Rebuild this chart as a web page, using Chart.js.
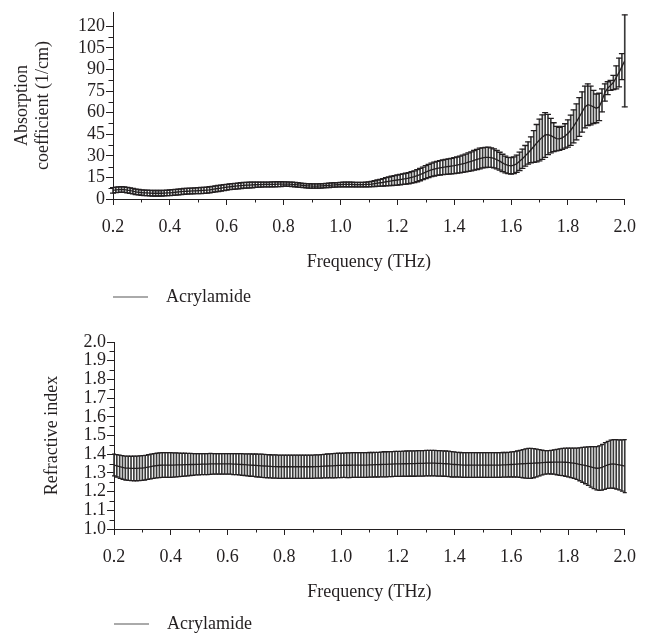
<!DOCTYPE html>
<html>
<head>
<meta charset="utf-8">
<title>Acrylamide - THz absorption and refractive index</title>
<script src="https://cdn.jsdelivr.net/npm/chart.js@4.4.1/dist/chart.umd.min.js"></script>
<style>
    html, body { margin: 0; padding: 0; background: #fff; overflow: hidden; }
    .panel { position: absolute; left: 0; width: 647px; }
    #absPanel { top: 0; height: 316px; }
    #riPanel { top: 316px; height: 327px; }
</style>
</head>
<body>
<div class="panel" id="absPanel"><canvas id="absChart" width="647" height="316"></canvas></div>
<div class="panel" id="riPanel"><canvas id="riChart" width="647" height="327"></canvas></div>
<script>
// Frequency grid (THz)
const freqs = [
    0.20, 0.21, 0.22, 0.23, 0.24, 0.25, 0.26, 0.27, 0.28, 0.29,
    0.30, 0.31, 0.32, 0.33, 0.34, 0.35, 0.36, 0.37, 0.38, 0.39,
    0.40, 0.41, 0.42, 0.43, 0.44, 0.45, 0.46, 0.47, 0.48, 0.49,
    0.50, 0.51, 0.52, 0.53, 0.54, 0.55, 0.56, 0.57, 0.58, 0.59,
    0.60, 0.61, 0.62, 0.63, 0.64, 0.65, 0.66, 0.67, 0.68, 0.69,
    0.70, 0.71, 0.72, 0.73, 0.74, 0.75, 0.76, 0.77, 0.78, 0.79,
    0.80, 0.81, 0.82, 0.83, 0.84, 0.85, 0.86, 0.87, 0.88, 0.89,
    0.90, 0.91, 0.92, 0.93, 0.94, 0.95, 0.96, 0.97, 0.98, 0.99,
    1.00, 1.01, 1.02, 1.03, 1.04, 1.05, 1.06, 1.07, 1.08, 1.09,
    1.10, 1.11, 1.12, 1.13, 1.14, 1.15, 1.16, 1.17, 1.18, 1.19,
    1.20, 1.21, 1.22, 1.23, 1.24, 1.25, 1.26, 1.27, 1.28, 1.29,
    1.30, 1.31, 1.32, 1.33, 1.34, 1.35, 1.36, 1.37, 1.38, 1.39,
    1.40, 1.41, 1.42, 1.43, 1.44, 1.45, 1.46, 1.47, 1.48, 1.49,
    1.50, 1.51, 1.52, 1.53, 1.54, 1.55, 1.56, 1.57, 1.58, 1.59,
    1.60, 1.61, 1.62, 1.63, 1.64, 1.65, 1.66, 1.67, 1.68, 1.69,
    1.70, 1.71, 1.72, 1.73, 1.74, 1.75, 1.76, 1.77, 1.78, 1.79,
    1.80, 1.81, 1.82, 1.83, 1.84, 1.85, 1.86, 1.87, 1.88, 1.89,
    1.90, 1.91, 1.92, 1.93, 1.94, 1.95, 1.96, 1.97, 1.98, 1.99,
    2.00
];

// Absorption coefficient (1/cm): mean and error half-width
const absMean = [
    6.0, 6.3, 6.5, 6.6, 6.5, 6.2, 5.8, 5.4, 5.0, 4.7,
    4.5, 4.3, 4.2, 4.1, 4.0, 4.0, 4.0, 4.0, 4.1, 4.2,
    4.3, 4.5, 4.7, 4.9, 5.1, 5.3, 5.4, 5.5, 5.6, 5.7,
    5.8, 5.9, 6.0, 6.2, 6.4, 6.7, 7.0, 7.3, 7.6, 7.9,
    8.2, 8.5, 8.7, 8.9, 9.1, 9.3, 9.5, 9.6, 9.7, 9.8,
    9.9, 10.0, 10.0, 10.1, 10.1, 10.1, 10.2, 10.2, 10.3, 10.3,
    10.4, 10.4, 10.3, 10.2, 10.0, 9.8, 9.6, 9.4, 9.2, 9.1,
    9.0, 9.0, 9.0, 9.1, 9.2, 9.4, 9.5, 9.7, 9.8, 9.9,
    10.0, 10.1, 10.1, 10.1, 10.1, 10.0, 10.0, 10.0, 10.0, 10.1,
    10.2, 10.4, 10.7, 11.0, 11.3, 11.6, 12.0, 12.3, 12.6, 12.9,
    13.2, 13.5, 13.8, 14.1, 14.5, 15.0, 15.5, 16.2, 17.0, 17.8,
    18.7, 19.5, 20.2, 20.8, 21.3, 21.7, 22.0, 22.3, 22.6, 22.9,
    23.2, 23.6, 24.0, 24.5, 25.0, 25.6, 26.2, 26.9, 27.5, 28.1,
    28.6, 28.9, 29.0, 28.8, 28.2, 27.3, 26.3, 25.1, 24.0, 23.3,
    23.0, 23.5, 24.5, 26.2, 28.0, 30.0, 32.0, 34.2, 36.5, 38.8,
    41.0, 43.0, 44.5, 44.8, 44.0, 43.0, 42.0, 41.8, 42.5, 43.8,
    45.5, 47.8, 50.5, 53.6, 57.0, 60.5, 64.0, 65.6, 65.0, 64.0,
    63.0, 64.0, 68.5, 74.0, 77.0, 79.0, 81.0, 84.5, 88.0, 92.0,
    96.0
];
const absErr = [
    1.9, 1.9, 1.9, 1.9, 1.9, 1.9, 1.9, 1.9, 1.9, 1.9,
    1.9, 1.9, 1.9, 1.9, 1.9, 1.9, 1.9, 1.9, 1.9, 1.9,
    2.0, 2.0, 2.0, 2.0, 2.0, 2.0, 2.0, 2.0, 2.0, 2.0,
    2.1, 2.1, 2.1, 2.1, 2.1, 2.1, 2.1, 2.1, 2.1, 2.1,
    2.0, 2.0, 2.0, 2.0, 2.0, 2.0, 2.0, 2.0, 2.0, 2.0,
    1.8, 1.8, 1.7, 1.7, 1.7, 1.7, 1.7, 1.7, 1.7, 1.7,
    1.5, 1.5, 1.5, 1.5, 1.5, 1.5, 1.5, 1.5, 1.5, 1.5,
    1.5, 1.5, 1.5, 1.5, 1.5, 1.5, 1.5, 1.5, 1.5, 1.5,
    1.6, 1.6, 1.6, 1.6, 1.6, 1.6, 1.6, 1.6, 1.6, 1.6,
    1.7, 1.8, 2.0, 2.2, 2.4, 2.6, 2.8, 3.0, 3.2, 3.4,
    3.5, 3.6, 3.7, 3.8, 3.9, 4.0, 4.1, 4.2, 4.3, 4.4,
    4.5, 4.6, 4.7, 4.8, 4.9, 5.0, 5.1, 5.2, 5.3, 5.4,
    5.5, 5.6, 5.8, 6.0, 6.2, 6.4, 6.6, 6.8, 7.0, 7.2,
    7.0, 7.0, 7.0, 6.8, 6.6, 6.4, 6.2, 6.0, 5.8, 5.7,
    5.7, 5.8, 6.0, 6.4, 6.7, 7.2, 7.7, 9.0, 11.0, 13.0,
    14.5, 15.5, 15.5, 14.0, 12.0, 10.0, 8.5, 8.0, 8.0, 8.5,
    9.5, 10.5, 11.5, 12.5, 13.5, 14.0, 14.5, 14.5, 13.5, 11.5,
    10.0, 9.5, 8.0, 6.0, 4.5, 3.5, 5.0, 8.0, 10.0, 9.0,
    32.0
];

// Refractive index: mean and error half-width
const riMean = [
    1.342, 1.338, 1.333, 1.329, 1.326, 1.325, 1.324, 1.324, 1.324, 1.325,
    1.326, 1.328, 1.331, 1.334, 1.337, 1.339, 1.341, 1.342, 1.342, 1.342,
    1.342, 1.342, 1.343, 1.343, 1.343, 1.344, 1.344, 1.345, 1.345, 1.346,
    1.346, 1.347, 1.347, 1.347, 1.348, 1.348, 1.348, 1.348, 1.348, 1.348,
    1.348, 1.348, 1.347, 1.347, 1.346, 1.345, 1.344, 1.343, 1.342, 1.341,
    1.340, 1.339, 1.338, 1.337, 1.336, 1.335, 1.334, 1.334, 1.333, 1.333,
    1.333, 1.333, 1.333, 1.333, 1.333, 1.333, 1.333, 1.333, 1.333, 1.333,
    1.333, 1.334, 1.334, 1.335, 1.336, 1.337, 1.338, 1.338, 1.339, 1.340,
    1.340, 1.341, 1.341, 1.341, 1.342, 1.342, 1.342, 1.342, 1.342, 1.342,
    1.343, 1.343, 1.344, 1.344, 1.345, 1.346, 1.346, 1.347, 1.347, 1.348,
    1.348, 1.348, 1.349, 1.349, 1.350, 1.350, 1.350, 1.351, 1.351, 1.351,
    1.352, 1.352, 1.352, 1.352, 1.351, 1.351, 1.350, 1.349, 1.348, 1.346,
    1.345, 1.344, 1.343, 1.342, 1.342, 1.342, 1.342, 1.342, 1.342, 1.342,
    1.342, 1.342, 1.342, 1.342, 1.342, 1.342, 1.342, 1.343, 1.343, 1.344,
    1.345, 1.346, 1.347, 1.348, 1.349, 1.350, 1.351, 1.351, 1.352, 1.353,
    1.354, 1.355, 1.356, 1.357, 1.357, 1.358, 1.358, 1.358, 1.358, 1.357,
    1.356, 1.354, 1.352, 1.349, 1.346, 1.343, 1.340, 1.336, 1.332, 1.328,
    1.325, 1.326, 1.330, 1.337, 1.343, 1.347, 1.348, 1.346, 1.343, 1.340,
    1.336
];
const riErr = [
    0.058, 0.060, 0.062, 0.063, 0.064, 0.065, 0.065, 0.066, 0.066, 0.066,
    0.066, 0.066, 0.066, 0.066, 0.066, 0.066, 0.066, 0.066, 0.066, 0.066,
    0.066, 0.065, 0.064, 0.063, 0.062, 0.061, 0.060, 0.059, 0.058, 0.057,
    0.057, 0.056, 0.056, 0.056, 0.056, 0.055, 0.055, 0.055, 0.055, 0.055,
    0.055, 0.055, 0.056, 0.056, 0.057, 0.058, 0.058, 0.059, 0.060, 0.060,
    0.061, 0.061, 0.062, 0.062, 0.062, 0.062, 0.062, 0.062, 0.062, 0.062,
    0.062, 0.062, 0.062, 0.062, 0.062, 0.062, 0.062, 0.062, 0.062, 0.062,
    0.062, 0.062, 0.062, 0.063, 0.063, 0.064, 0.064, 0.065, 0.065, 0.065,
    0.065, 0.065, 0.066, 0.066, 0.066, 0.066, 0.066, 0.066, 0.066, 0.066,
    0.066, 0.066, 0.066, 0.066, 0.066, 0.067, 0.067, 0.067, 0.067, 0.067,
    0.067, 0.067, 0.067, 0.068, 0.068, 0.068, 0.068, 0.068, 0.068, 0.068,
    0.068, 0.068, 0.068, 0.068, 0.068, 0.068, 0.068, 0.068, 0.068, 0.068,
    0.067, 0.066, 0.066, 0.066, 0.066, 0.066, 0.066, 0.066, 0.066, 0.066,
    0.066, 0.066, 0.066, 0.066, 0.066, 0.066, 0.066, 0.066, 0.066, 0.066,
    0.067, 0.068, 0.070, 0.072, 0.075, 0.078, 0.080, 0.080, 0.078, 0.074,
    0.070, 0.066, 0.063, 0.062, 0.063, 0.065, 0.068, 0.071, 0.073, 0.075,
    0.077, 0.079, 0.081, 0.084, 0.088, 0.093, 0.098, 0.103, 0.108, 0.112,
    0.116, 0.119, 0.122, 0.125, 0.126, 0.128, 0.130, 0.132, 0.134, 0.137,
    0.142
];

// Axis ticks
const xMajorTicks = [0.2, 0.4, 0.6, 0.8, 1.0, 1.2, 1.4, 1.6, 1.8, 2.0];
const xMinorTicks = [0.3, 0.5, 0.7, 0.9, 1.1, 1.3, 1.5, 1.7, 1.9];
const absMajorTicks = [0, 15, 30, 45, 60, 75, 90, 105, 120];
const absMinorTicks = [7.5, 22.5, 37.5, 52.5, 67.5, 82.5, 97.5, 112.5];
const riMajorTicks = [1.0, 1.1, 1.2, 1.3, 1.4, 1.5, 1.6, 1.7, 1.8, 1.9, 2.0];
const riMinorTicks = [1.05, 1.15, 1.25, 1.35, 1.45, 1.55, 1.65, 1.75, 1.85, 1.95];

const INK = '#231f20';

Chart.defaults.font.family = "'Liberation Serif', 'Times New Roman', serif";
Chart.defaults.font.size = 18;
Chart.defaults.color = INK;

// legend sample: a 35px rule followed by a little blank space before the text
const legendSwatch = document.createElement('canvas');
legendSwatch.width = 44;
legendSwatch.height = 3;
const swatchCtx = legendSwatch.getContext('2d');
swatchCtx.fillStyle = '#555';
swatchCtx.fillRect(0, 1, 35, 1);

function buildDatasets(means, errs, capRadius) {
    return [
        {
            type: 'line',
            label: 'Acrylamide',
            data: freqs.map((f, i) => ({ x: f, y: means[i] })),
            borderColor: INK,
            backgroundColor: INK,
            borderWidth: 1.3,
            pointRadius: 0,
            order: 0
        },
        {
            type: 'line',
            label: 'upper',
            data: freqs.map((f, i) => ({ x: f, y: means[i] + errs[i] })),
            showLine: false,
            pointStyle: 'line',
            pointRadius: capRadius,
            pointBorderColor: INK,
            pointBorderWidth: 1.3,
            clip: 8,
            order: 1
        },
        {
            type: 'line',
            label: 'lower',
            data: freqs.map((f, i) => ({ x: f, y: means[i] - errs[i] })),
            showLine: false,
            pointStyle: 'line',
            pointRadius: capRadius,
            pointBorderColor: INK,
            pointBorderWidth: 1.3,
            clip: 8,
            order: 1
        },
        {
            type: 'bar',
            label: 'error',
            data: freqs.map((f, i) => ({ x: f, y: [means[i] - errs[i], means[i] + errs[i]] })),
            backgroundColor: '#3a3a3a',
            borderWidth: 0,
            barThickness: 1,
            grouped: false,
            clip: 8,
            order: 2
        }
    ];
}

// short minor tick marks, drawn outside the plot like the major ones
function minorTicks(xMinor, yMinor) {
    return {
        id: 'minorTicks',
        afterDraw(chart) {
            const { ctx, scales: { x, y } } = chart;
            ctx.save();
            ctx.strokeStyle = INK;
            ctx.lineWidth = 1;
            ctx.beginPath();
            xMinor.forEach(v => {
                const px = Math.round(x.getPixelForValue(v)) + 0.5;
                ctx.moveTo(px, x.top);
                ctx.lineTo(px, x.top + 3.5);
            });
            yMinor.forEach(v => {
                const py = Math.round(y.getPixelForValue(v)) + 0.5;
                ctx.moveTo(y.right - 4.5, py);
                ctx.lineTo(y.right, py);
            });
            ctx.stroke();
            ctx.restore();
        }
    };
}

function createChart(canvasId, cfg) {
    const ctx = document.getElementById(canvasId).getContext('2d');
    return new Chart(ctx, {
        type: 'line',
        data: { datasets: buildDatasets(cfg.means, cfg.errs, cfg.capRadius) },
        options: {
            responsive: false,
            animation: false,
            devicePixelRatio: 1,
            events: [],
            layout: { padding: { top: cfg.padTop, right: cfg.padRight, left: 0, bottom: 0 } },
            scales: {
                x: {
                    type: 'linear',
                    min: 0.2,
                    max: 2.0,
                    offset: false,
                    grid: { offset: false, drawOnChartArea: false, tickLength: 6, tickColor: INK },
                    border: { color: INK, width: 1 },
                    afterBuildTicks: scale => { scale.ticks = xMajorTicks.map(v => ({ value: v })); },
                    afterFit: scale => { scale.height = cfg.xHeight; },
                    ticks: {
                        autoSkip: false,
                        maxRotation: 0,
                        padding: 11,
                        color: INK,
                        callback: value => value.toFixed(1)
                    },
                    title: {
                        display: true,
                        text: 'Frequency (THz)',
                        color: INK,
                        padding: { top: 4, bottom: cfg.xTitleBottom }
                    }
                },
                y: {
                    type: 'linear',
                    min: cfg.yMin,
                    max: cfg.yMax,
                    grid: { drawOnChartArea: false, tickLength: 7, tickColor: INK },
                    border: { color: INK, width: 1 },
                    afterBuildTicks: scale => { scale.ticks = cfg.yTicks.map(v => ({ value: v })); },
                    afterFit: scale => { scale.width = cfg.yWidth; },
                    ticks: {
                        autoSkip: false,
                        padding: 1,
                        color: INK,
                        callback: cfg.yLabel
                    },
                    title: {
                        display: true,
                        text: cfg.yTitle,
                        color: INK,
                        padding: { top: cfg.yTitlePad, bottom: 0 }
                    }
                }
            },
            plugins: {
                tooltip: { enabled: false },
                legend: {
                    position: 'bottom',
                    align: 'start',
                    fullSize: false,
                    labels: {
                        usePointStyle: true,
                        pointStyleWidth: 44,
                        padding: 0,
                        color: INK,
                        generateLabels: chart => Chart.defaults.plugins.legend.labels.generateLabels(chart)
                            .filter(item => item.text === 'Acrylamide')
                            .map(item => ({ ...item, pointStyle: legendSwatch, lineWidth: 0 }))
                    }
                }
            }
        },
        plugins: [minorTicks(xMinorTicks, cfg.yMinor)]
    });
}

createChart('absChart', {
    means: absMean,
    errs: absErr,
    capRadius: 3,
    padTop: 12,
    padRight: 17,
    xHeight: 89,
    xTitleBottom: 15,
    yMin: 0,
    yMax: 130,
    yTicks: absMajorTicks,
    yMinor: absMinorTicks,
    yWidth: 113,
    yLabel: value => String(value),
    yTitle: ['Absorption', 'coefficient (1/cm)'],
    yTitlePad: 11
});

createChart('riChart', {
    means: riMean,
    errs: riErr,
    capRadius: 2,
    padTop: 26,
    padRight: 16,
    xHeight: 86,
    xTitleBottom: 12,
    yMin: 1.0,
    yMax: 2.0,
    yTicks: riMajorTicks,
    yMinor: riMinorTicks,
    yWidth: 114,
    yLabel: value => value.toFixed(1),
    yTitle: 'Refractive index',
    yTitlePad: 41
});
</script>
</body>
</html>
